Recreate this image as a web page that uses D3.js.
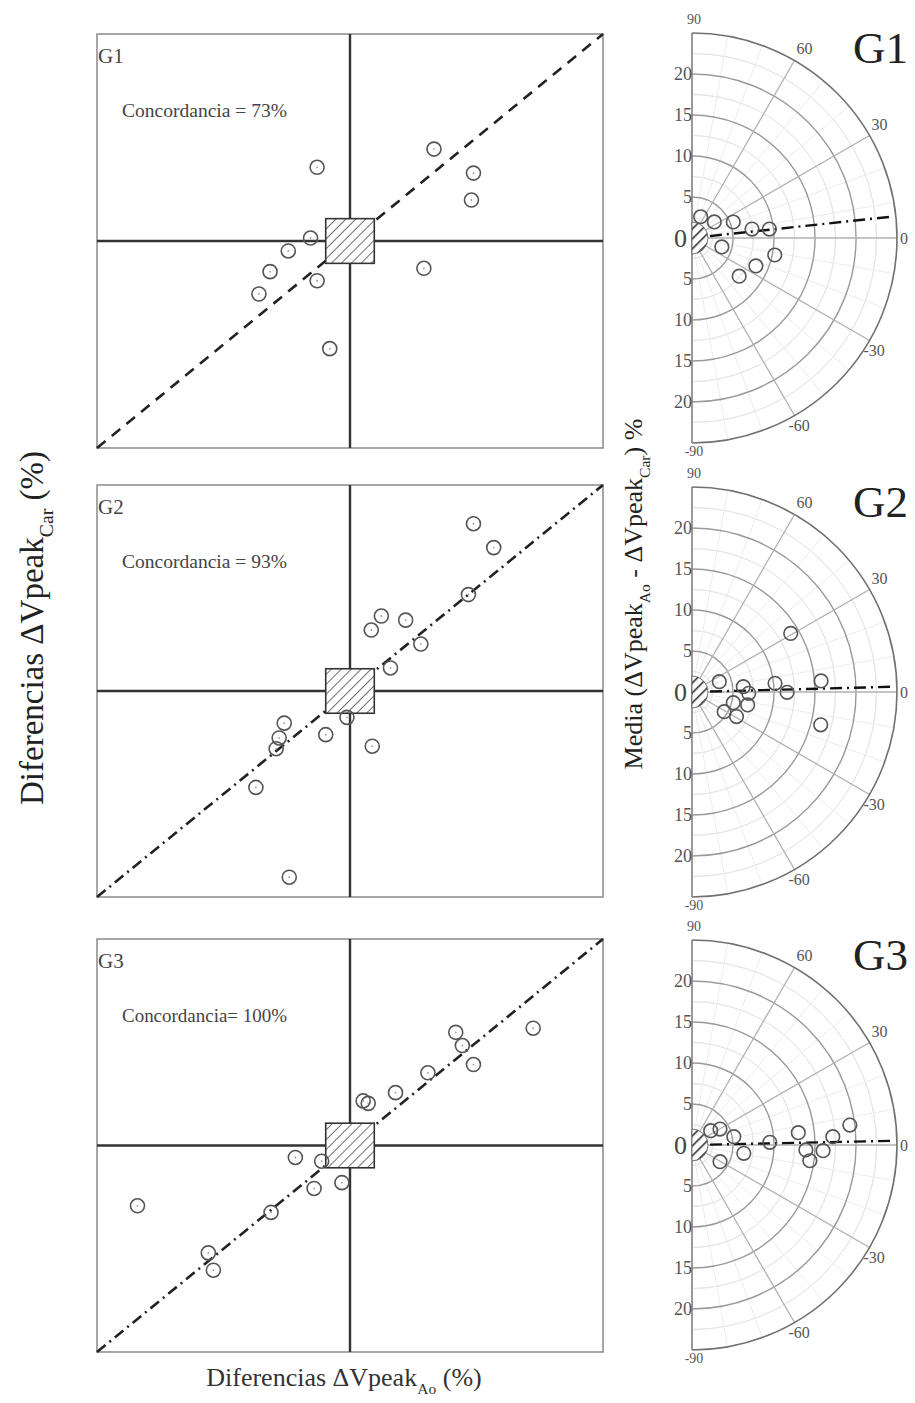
<!DOCTYPE html>
<html><head><meta charset="utf-8">
<script src="https://cdn.jsdelivr.net/npm/d3@7"></script>
<style>body{margin:0;background:#fff}svg{display:block}</style>
</head><body>
<script>
// ---------- DATA ----------
const groups = ["G1", "G2", "G3"];
const concordance = ["Concordancia = 73%", "Concordancia = 93%", "Concordancia= 100%"];
// scatter: [ΔVpeak Ao, ΔVpeak Car] differences (%)
const scatterG1 = [[8.3,11.1],[-3.25,8.9],[12.2,8.2],[12.0,4.95],[-3.9,0.36],[-6.1,-1.2],[-7.9,-3.7],[-3.25,-4.8],[-9.0,-6.4],[7.3,-3.3],[-2.0,-13.0]];
const scatterG2 = [[12.2,20.3],[14.2,17.4],[11.7,11.7],[3.1,9.1],[2.1,7.4],[5.5,8.6],[7.0,5.7],[4.0,2.8],[-0.3,-3.2],[-6.5,-3.9],[-7.0,-5.7],[-7.3,-7.0],[-2.4,-5.3],[2.2,-6.7],[-9.3,-11.7],[-6.0,-22.6]];
const scatterG3 = [[10.45,13.7],[11.1,12.1],[12.2,9.8],[18.1,14.2],[7.7,8.8],[4.5,6.4],[1.3,5.4],[1.8,5.1],[-5.4,-1.45],[-2.8,-1.9],[-3.55,-5.2],[-0.8,-4.5],[-7.8,-8.1],[-21.0,-7.3],[-14.0,-13.0],[-13.5,-15.1]];
// polar: [angle (deg), mean (%)]
const polarG1 = [[67.8,2.8],[35.7,3.35],[21.2,5.4],[8.5,7.4],[6.6,9.5],[-16.7,3.8],[-11.6,10.3],[-23.6,8.5],[-39,7.4]];
const polarG2 = [[20.7,3.56],[5.9,6.29],[-1.3,6.92],[6.0,10.18],[-0.2,11.6],[4.9,15.8],[-14.5,5.2],[-13.1,6.97],[-31.4,4.6],[-28.9,6.2],[30.7,14.0],[-14.3,16.2]];
const polarG3 = [[37.4,2.87],[29.7,3.93],[11.2,5.2],[-9.1,6.4],[-30.8,3.98],[2.0,9.5],[6.6,13.05],[-2.5,13.9],[-7.6,14.5],[-2.5,16.0],[3.4,17.2],[7.2,19.4]];
const polarBiasAngle = [6.1, 1.5, 1.2];
const scatterDomain = [-25, 25];
const exclusionX = 2.4, exclusionY = 2.7;
const polarMax = 25;
const polarExclusion = 1.95;
const radialTicks = [5, 10, 15, 20];
const angleTicks = [90, 60, 30, 0, -30, -60, -90];

const scatters = [scatterG1, scatterG2, scatterG3];
const polars = [polarG1, polarG2, polarG3];

// ---------- LAYOUT ----------
const W = 915, H = 1403;
const svg = d3.select("body").append("svg").attr("width", W).attr("height", H)
  .style("font-family", "'Liberation Serif','DejaVu Serif',serif");
const defs = svg.append("defs");
function hatch(id, spacing, width) {
  const p = defs.append("pattern").attr("id", id).attr("patternUnits", "userSpaceOnUse")
    .attr("width", spacing).attr("height", spacing).attr("patternTransform", "rotate(45)");
  p.append("rect").attr("width", spacing).attr("height", spacing).attr("fill", "#fff");
  p.append("line").attr("x1", 0).attr("y1", 0).attr("x2", 0).attr("y2", spacing)
    .attr("stroke", "#333").attr("stroke-width", width);
}
hatch("hs", 7, 1.4);
hatch("hp", 7, 3.2);

const boxes = [{top: 34, bottom: 448}, {top: 485, bottom: 897}, {top: 939, bottom: 1352}];
const xLeft = 97, xRight = 603;
const polarCx = 692;
const polarCy = [238, 692, 1145];
const polarR = 205;
const dashStyles = ["11,8", "11,5,2,5", "11,5,2,5"];

groups.forEach((g, i) => {
  const b = boxes[i];
  const x = d3.scaleLinear().domain(scatterDomain).range([xLeft, xRight]);
  const y = d3.scaleLinear().domain(scatterDomain).range([b.bottom, b.top]);
  const gS = svg.append("g");
  gS.append("rect").attr("x", x(-25)).attr("y", y(25)).attr("width", x(25) - x(-25)).attr("height", y(-25) - y(25))
    .attr("fill", "none").attr("stroke", "#8a8a8a").attr("stroke-width", 1.5);
  gS.append("line").attr("x1", x(0)).attr("x2", x(0)).attr("y1", y(25)).attr("y2", y(-25))
    .attr("stroke", "#333").attr("stroke-width", 2.4);
  gS.append("line").attr("x1", x(-25)).attr("x2", x(25)).attr("y1", y(0)).attr("y2", y(0))
    .attr("stroke", "#333").attr("stroke-width", 2.4);
  gS.append("line").attr("x1", x(-25)).attr("y1", y(-25)).attr("x2", x(25)).attr("y2", y(25))
    .attr("stroke", "#222").attr("stroke-width", 2.6).attr("stroke-dasharray", dashStyles[i]);
  gS.append("rect").attr("x", x(-exclusionX)).attr("y", y(exclusionY))
    .attr("width", x(exclusionX) - x(-exclusionX)).attr("height", y(-exclusionY) - y(exclusionY))
    .attr("fill", "url(#hs)").attr("stroke", "#333").attr("stroke-width", 1.6);
  gS.selectAll("circle.pt").data(scatters[i]).join("circle").attr("class", "pt")
    .attr("cx", d => x(d[0])).attr("cy", d => y(d[1])).attr("r", 7)
    .attr("fill", "none").attr("stroke", "#555").attr("stroke-width", 1.6);
  gS.selectAll("circle.dot").data(scatters[i]).join("circle").attr("class", "dot")
    .attr("cx", d => x(d[0])).attr("cy", d => y(d[1])).attr("r", 0.9).attr("fill", "#999");
  gS.append("text").attr("x", 98).attr("y", b.top + 29).attr("font-size", 21).attr("fill", "#444").text(g);
  gS.append("text").attr("x", 122).attr("y", b.top + 83).attr("font-size", 19).attr("fill", "#444")
    .attr("textLength", 165).attr("lengthAdjust", "spacingAndGlyphs").text(concordance[i]);

  // ---------- polar ----------
  const cx = polarCx, cy = polarCy[i];
  const r = d3.scaleLinear().domain([0, polarMax]).range([0, polarR]);
  const gP = svg.append("g").attr("transform", `translate(${cx},${cy})`);
  const pt = (a, rr) => [r(rr) * Math.cos(a * Math.PI / 180), -r(rr) * Math.sin(a * Math.PI / 180)];
  const arc = rr => d3.arc()({innerRadius: r(rr), outerRadius: r(rr), startAngle: 0, endAngle: Math.PI});
  d3.range(2.5, polarMax, 2.5).filter(v => v % 5 !== 0).forEach(v => {
    gP.append("path").attr("d", arc(v)).attr("fill", "none").attr("stroke", "#e6e6e6").attr("stroke-width", 1);
  });
  d3.range(-80, 90, 10).filter(a => a % 30 !== 0).forEach(a => {
    const p0 = pt(a, 0), p1 = pt(a, polarMax);
    gP.append("line").attr("x1", p0[0]).attr("y1", p0[1]).attr("x2", p1[0]).attr("y2", p1[1])
      .attr("stroke", "#ececec").attr("stroke-width", 1);
  });
  radialTicks.forEach(v => {
    gP.append("path").attr("d", arc(v)).attr("fill", "none").attr("stroke", "#9a9a9a").attr("stroke-width", 1.4);
  });
  [60, 30, 0, -30, -60].forEach(a => {
    const p1 = pt(a, polarMax);
    gP.append("line").attr("x1", 0).attr("y1", 0).attr("x2", p1[0]).attr("y2", p1[1])
      .attr("stroke", "#b0b0b0").attr("stroke-width", 1.3);
  });
  gP.append("path").attr("d", arc(polarMax)).attr("fill", "none").attr("stroke", "#707070").attr("stroke-width", 1.6);
  gP.append("line").attr("x1", 0).attr("x2", 0).attr("y1", -r(polarMax)).attr("y2", r(polarMax))
    .attr("stroke", "#808080").attr("stroke-width", 1.6);
  radialTicks.forEach(v => {
    [-1, 1].forEach(s => {
      gP.append("text").attr("x", 0).attr("y", s * r(v) + 6).attr("text-anchor", "end")
        .attr("font-size", 18).attr("fill", "#555").text(v);
    });
  });
  gP.append("text").attr("x", -5).attr("y", 9).attr("text-anchor", "end").attr("font-size", 26).attr("fill", "#444").text("0");
  angleTicks.forEach(a => {
    let p = pt(a, polarMax), tx = p[0], ty = p[1], anchor = "start", fs = 16;
    if (a === 90) { tx = 2; ty = p[1] - 9; anchor = "middle"; fs = 14; }
    else if (a === -90) { tx = 2; ty = p[1] + 13; anchor = "middle"; fs = 14; }
    else if (a === 0) { tx = p[0] + 3; ty = 6; }
    else if (a > 0) { tx = p[0] + 2; ty = p[1] - 6; }
    else { tx = p[0] - 6; ty = p[1] + 15; }
    gP.append("text").attr("x", tx).attr("y", ty).attr("text-anchor", anchor)
      .attr("font-size", fs).attr("fill", "#555").text(a);
  });
  gP.append("path").attr("d", d3.arc()({innerRadius: 0, outerRadius: r(polarExclusion), startAngle: 0, endAngle: Math.PI}))
    .attr("fill", "url(#hp)").attr("stroke", "#555").attr("stroke-width", 0.8);
  const b0 = pt(polarBiasAngle[i], 2.2), b1 = pt(polarBiasAngle[i], 24.6);
  gP.append("line").attr("x1", b0[0]).attr("y1", b0[1]).attr("x2", b1[0]).attr("y2", b1[1])
    .attr("stroke", "#111").attr("stroke-width", 2.4).attr("stroke-dasharray", "12,5,2,5");
  gP.selectAll("circle.pp").data(polars[i]).join("circle").attr("class", "pp")
    .attr("cx", d => pt(d[0], d[1])[0]).attr("cy", d => pt(d[0], d[1])[1]).attr("r", 6.8)
    .attr("fill", "none").attr("stroke", "#555").attr("stroke-width", 1.6);
  svg.append("text").attr("x", 853).attr("y", cy - 175).attr("font-size", 45).attr("fill", "#222").text(g);
});

// ---------- axis titles ----------
function subText(sel, parts, size) {
  parts.forEach(p => {
    if (p.sub) sel.append("tspan").attr("font-size", size * 0.6).attr("dy", size * 0.3).text(p.t);
    else sel.append("tspan").attr("dy", p.after ? -size * 0.3 : 0).text(p.t);
  });
}
const bt = svg.append("text").attr("x", 344).attr("y", 1386).attr("text-anchor", "middle")
  .attr("font-size", 26).attr("fill", "#333");
subText(bt, [{t: "Diferencias ΔVpeak"}, {t: "Ao", sub: true}, {t: " (%)", after: true}], 26);
const lt = svg.append("text").attr("transform", "translate(43,628) rotate(-90)").attr("text-anchor", "middle")
  .attr("font-size", 33).attr("fill", "#222");
subText(lt, [{t: "Diferencias ΔVpeak"}, {t: "Car", sub: true}, {t: " (%)", after: true}], 33);
const mt = svg.append("text").attr("transform", "translate(642,594) rotate(-90)").attr("text-anchor", "middle")
  .attr("font-size", 26).attr("fill", "#222");
subText(mt, [{t: "Media (ΔVpeak"}, {t: "Ao", sub: true}, {t: " - ΔVpeak", after: true}, {t: "Car", sub: true}, {t: ") %", after: true}], 26);
</script>
</body></html>
